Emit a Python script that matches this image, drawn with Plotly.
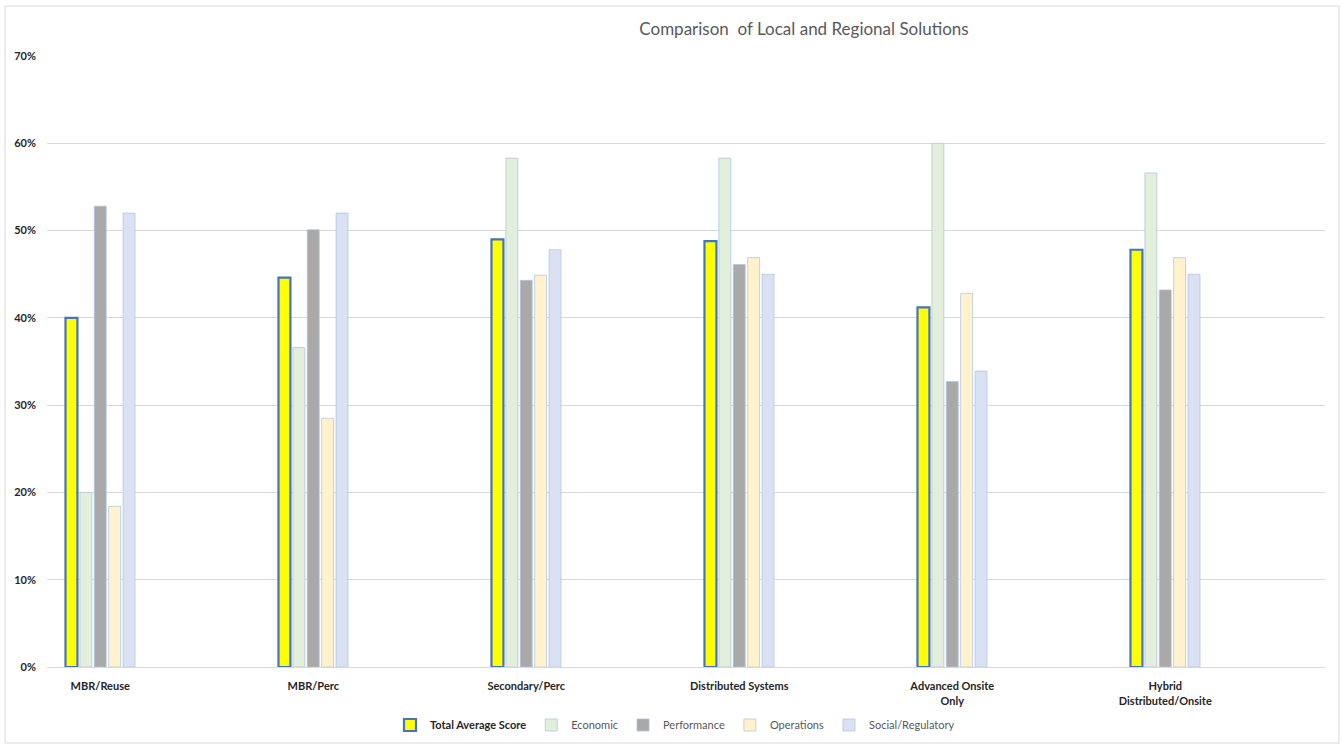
import plotly.graph_objects as go

# Alternatives compared
categories = [
    "MBR/Reuse",
    "MBR/Perc",
    "Secondary/Perc",
    "Distributed Systems",
    "Advanced Onsite<br>Only",
    "Hybrid<br>Distributed/Onsite",
]

# Scores per criterion (fractions of 1)
total_average = [0.400, 0.446, 0.490, 0.488, 0.412, 0.478]
economic = [0.200, 0.366, 0.583, 0.583, 0.600, 0.566]
performance = [0.528, 0.501, 0.443, 0.461, 0.327, 0.432]
operations = [0.184, 0.285, 0.449, 0.469, 0.428, 0.469]
social_regulatory = [0.520, 0.520, 0.478, 0.450, 0.339, 0.450]

y_ticks = [0, 0.1, 0.2, 0.3, 0.4, 0.5, 0.6, 0.7]
y_tick_text = ["0%", "10%", "20%", "30%", "40%", "50%", "60%", "70%"]

FONT = "Lato, 'Open Sans', sans-serif"
thin_edge = dict(color="rgba(176,196,228,0.75)", width=1)

series = [
    ("<b><span style='color:#262626'>Total Average Score</span></b>", total_average,
     "#FFFF00", dict(color="#4472C4", width=2.2)),
    ("Economic", economic, "#E2EFDA", thin_edge),
    ("Performance", performance, "#A9A9A9", thin_edge),
    ("Operations", operations, "#FFF2CC", thin_edge),
    ("Social/Regulatory", social_regulatory, "#D9E1F2", thin_edge),
]

fig = go.Figure()
for name, values, fill, edge in series:
    fig.add_trace(go.Bar(
        x=categories,
        y=values,
        name=name,
        marker=dict(color=fill, line=edge),
        hovertemplate="%{x}: %{y:.1%}<extra></extra>",
    ))

W, H = 1343, 745

fig.update_layout(
    width=W,
    height=H,
    paper_bgcolor="white",
    plot_bgcolor="white",
    barmode="group",
    bargap=0.662,
    bargroupgap=0.17,
    margin=dict(l=47, r=18, t=56, b=78, autoexpand=False),
    font=dict(family=FONT, size=11, color="#595959"),
    title=dict(
        text="Comparison  of Local and Regional Solutions",
        x=804 / W,
        xanchor="center",
        y=1 - 29 / H,
        yanchor="middle",
        font=dict(family=FONT, size=17, color="#595959"),
    ),
    xaxis=dict(
        type="category",
        range=[-0.25, 5.75],
        showgrid=False,
        showline=True,
        linecolor="#D9D9D9",
        linewidth=1,
        ticks="",
        ticklabelstandoff=9,
        tickfont=dict(family=FONT, size=11, color="#262626", weight="bold"),
        fixedrange=True,
    ),
    yaxis=dict(
        range=[0, 0.7],
        tickvals=y_ticks,
        ticktext=y_tick_text,
        showgrid=True,
        gridcolor="#D9D9D9",
        gridwidth=1,
        zeroline=False,
        ticks="",
        ticklabelstandoff=10,
        tickfont=dict(family=FONT, size=11, color="#262626", weight="bold"),
        fixedrange=True,
    ),
    legend=dict(
        orientation="h",
        xref="container",
        yref="container",
        x=675 / W,
        xanchor="center",
        y=1 - 725 / H,
        yanchor="middle",
        font=dict(family=FONT, size=11, color="#595959"),
        itemwidth=30,
        traceorder="normal",
    ),
    showlegend=True,
)

# Light frame around the whole chart
fig.add_shape(
    type="rect",
    xref="paper", yref="paper",
    x0=(5 - 47) / 1278, x1=(1339 - 47) / 1278,
    y0=(667 - 743) / 611, y1=(667 - 6) / 611,
    line=dict(color="#D9D9D9", width=1),
    fillcolor="rgba(0,0,0,0)",
    layer="below",
)

fig.write_html("out.html")
